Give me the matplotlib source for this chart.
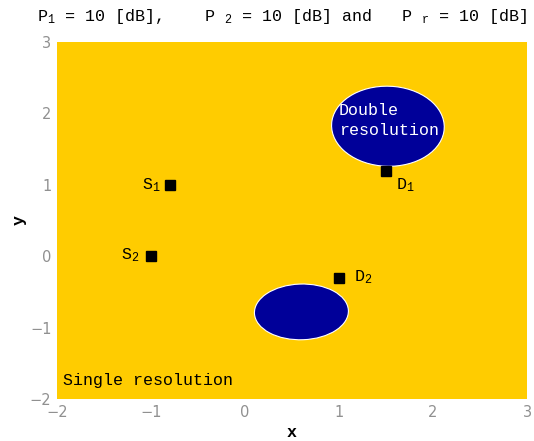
import matplotlib
matplotlib.use("Agg")
import matplotlib.pyplot as plt
from matplotlib.patches import Ellipse

plt.rcParams['mathtext.fontset'] = 'custom'
plt.rcParams['mathtext.rm'] = 'Liberation Mono'
plt.rcParams['mathtext.it'] = 'Liberation Mono'
plt.rcParams['mathtext.bf'] = 'Liberation Mono:bold'

# Data
node_names = ['S$_1$', 'S$_2$', 'D$_1$', 'D$_2$']
node_x = [-0.8, -1.0, 1.5, 1.0]
node_y = [1.0, 0.0, 1.2, -0.3]
label_dx = [-0.1, -0.12, 0.11, 0.16]
label_dy = [0.0, 0.02, -0.2, 0.01]
label_ha = ['right', 'right', 'left', 'left']

# Double-resolution regions (ellipses): centre x, centre y, width, height, angle
region_cx = [1.52, 0.6]
region_cy = [1.82, -0.78]
region_w = [1.2, 1.0]
region_h = [1.12, 0.78]
region_ang = [-8, 3]

xticks = [-2, -1, 0, 1, 2, 3]
yticks = [-2, -1, 0, 1, 2, 3]

yellow = '#FFCC00'
blue = '#000099'
mono = 'Liberation Mono'

fig = plt.figure(figsize=(5.34, 4.41), dpi=100)
ax = fig.add_axes([0.1067, 0.0952, 0.8803, 0.8096])
ax.set_facecolor(yellow)
ax.set_xlim(-2, 3)
ax.set_ylim(-2, 3)
for s in ax.spines.values():
    s.set_visible(False)
ax.tick_params(length=0, colors='#909090', labelsize=10.5, pad=4)
ax.set_xticks(xticks)
ax.set_yticks(yticks)

for cx, cy, w, h, a in zip(region_cx, region_cy, region_w, region_h, region_ang):
    ax.add_patch(Ellipse((cx, cy), w, h, angle=a, facecolor=blue,
                         edgecolor='white', linewidth=0.8))

ax.plot(node_x, node_y, 's', color='black', markersize=7, linestyle='none')
for n, x, y, dx, dy, ha in zip(node_names, node_x, node_y, label_dx, label_dy, label_ha):
    ax.text(x + dx, y + dy, n, ha=ha, va='center', fontsize=12, family=mono)

ax.text(1.0, 1.9, 'Double\nresolution', color='white', fontsize=12,
        family=mono, ha='left', va='center', linespacing=1.45)
ax.text(-1.94, -1.74, 'Single resolution', color='black', fontsize=12,
        family=mono, ha='left', va='center')

ax.set_xlabel('x', family=mono, fontsize=12, fontweight='bold', labelpad=4)
ax.set_ylabel('y', family=mono, fontsize=12, fontweight='bold', labelpad=2)

fig.text(0.069, 0.962, 'P$_1$ = 10 [dB],    P $_2$ = 10 [dB] and   P $_r$ = 10 [dB]',
         family=mono, fontsize=12, ha='left', va='center')

fig.savefig('out.png', dpi=100)
